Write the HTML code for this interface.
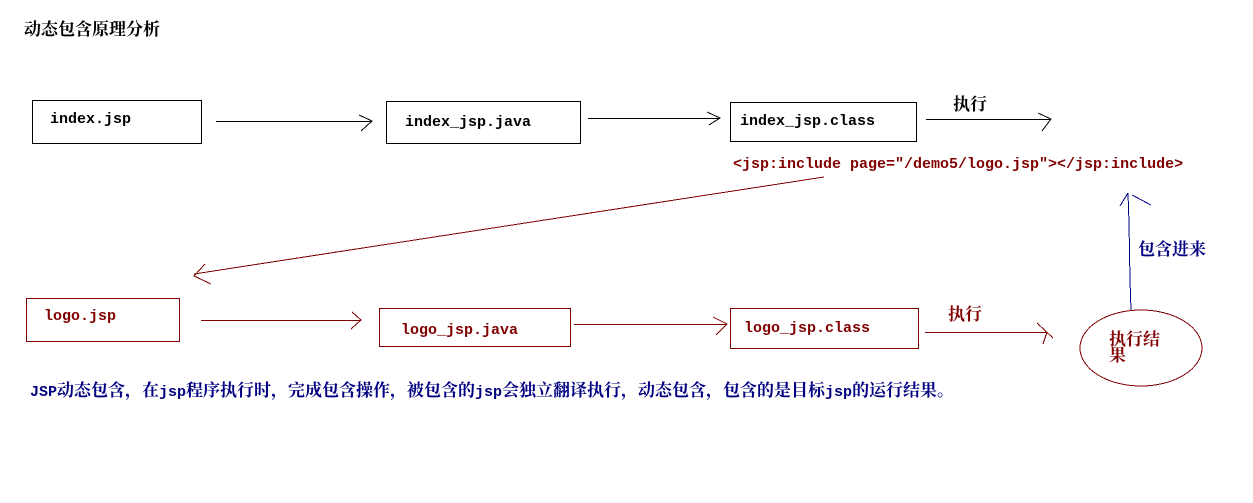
<!DOCTYPE html>
<html>
<head>
<meta charset="utf-8">
<style>
html,body{margin:0;padding:0;background:#fff;width:1253px;height:503px;overflow:hidden}
svg{display:block}
.g{fill:none;stroke-width:1;shape-rendering:crispEdges}
.k{stroke:#000}
.r{stroke:#800000}
.b{stroke:#000080}
text{font-family:"Liberation Mono","Noto Serif CJK SC",serif;font-weight:700;white-space:pre}
.m{font-size:15px}
.c{font-size:17px;font-family:"Noto Serif CJK SC","Noto Sans CJK SC",serif}
.fr{fill:#800000}
.fb{fill:#000080}
.fk{fill:#000}
</style>
</head>
<body>
<svg width="1253" height="503" viewBox="0 0 1253 503" xmlns="http://www.w3.org/2000/svg">
<rect width="1253" height="503" fill="#fff"/>

<text x="24" y="35" class="c fk">动态包含原理分析</text>

<g class="g k">
<rect x="32.5" y="100.5" width="169" height="43"/>
<rect x="386.5" y="101.5" width="194" height="42"/>
<rect x="730.5" y="102.5" width="186" height="39"/>
<path d="M216 121.5H372M359 115L372 121L361 131"/>
<path d="M588 118.5H720M707 112L720 118L709 125"/>
<path d="M926 119.5H1051M1038 113L1051 119L1042 131"/>
</g>
<text x="50" y="123" class="m fk">index.jsp</text>
<text x="405" y="126" class="m fk">index_jsp.java</text>
<text x="740" y="125" class="m fk">index_jsp.class</text>
<text x="953" y="110" class="c fk">执行</text>

<text x="733" y="168" class="m fr">&lt;jsp:include page="/demo5/logo.jsp"&gt;&lt;/jsp:include&gt;</text>

<g class="g r">
<path d="M824 177L194 274M205 264L194 276L211 284"/>
<rect x="26.5" y="298.5" width="153" height="43"/>
<rect x="379.5" y="308.5" width="191" height="38"/>
<rect x="730.5" y="308.5" width="188" height="40"/>
<path d="M201 320.5H360M352 312L361 320L351 329"/>
<path d="M574 324.5H726M713 317L727 324L716 335"/>
<path d="M925 332.5H1047M1037 323L1053 338M1043 344L1047 332"/>
<ellipse cx="1141" cy="348" rx="61" ry="38"/>
</g>
<text x="44" y="320" class="m fr">logo.jsp</text>
<text x="401" y="334" class="m fr">logo_jsp.java</text>
<text x="744" y="332" class="m fr">logo_jsp.class</text>
<text x="948" y="320" class="c fr">执行</text>
<text x="1109" y="345" class="c fr">执行结</text>
<text x="1109" y="361" class="c fr">果</text>

<g class="g b">
<path d="M1131 310L1130 280L1129 223L1128 193M1120 206L1128 193M1132 195L1151 205"/>
</g>
<text x="1138" y="255" class="c fb">包含进来</text>

<text x="30" y="396" class="fb"><tspan class="m">JSP</tspan><tspan class="c">动态包含，在</tspan><tspan class="m">jsp</tspan><tspan class="c">程序执行时，完成包含操作，被包含的</tspan><tspan class="m">jsp</tspan><tspan class="c">会独立翻译执行，动态包含，包含的是目标</tspan><tspan class="m">jsp</tspan><tspan class="c">的运行结果。</tspan></text>
</svg>
</body>
</html>
